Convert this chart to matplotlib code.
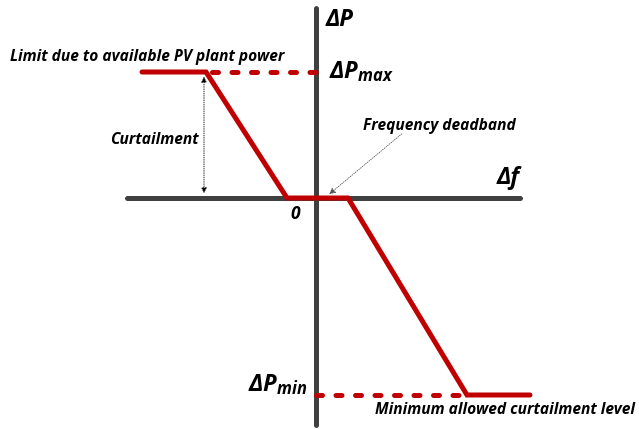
import numpy as np
import matplotlib.pyplot as plt

plt.rcParams['mathtext.fontset'] = 'custom'
plt.rcParams['mathtext.rm'] = 'Open Sans:bold:italic'
plt.rcParams['mathtext.it'] = 'Open Sans:bold:italic'
plt.rcParams['mathtext.bf'] = 'Open Sans:bold:italic'

# Droop characteristic (delta f, delta P), arbitrary units with origin at the axes crossing
df_pts = [-174, -110, -29, 32, 151, 214]
dp_pts = [126, 126, 0, 0, -197, -197]
dp_max = 126
dp_min = -197

red = '#C00000'
gray = '#404040'
font = dict(family='Open Sans', weight='bold', style='italic', color='black')

fig = plt.figure(figsize=(6.39, 4.29), dpi=100)
ax = fig.add_axes([0, 0, 1, 1])
ax.set_xlim(-316, 323)
ax.set_ylim(-231, 198)
ax.axis('off')

# axes of the diagram
ax.plot([-189, 204], [0, 0], color=gray, lw=3.6, solid_capstyle='round', zorder=1)
ax.plot([0, 0], [-227, 190], color=gray, lw=3.6, solid_capstyle='round', zorder=1)

# dashed limit lines
ax.plot([df_pts[1] + 6, 0], [dp_max, dp_max], color=red, lw=3.6,
        linestyle=(0, (1.2, 2.7)), dash_capstyle='round', zorder=2)
ax.plot([0, df_pts[4]], [dp_min, dp_min], color=red, lw=3.6,
        linestyle=(0, (1.2, 2.7)), dash_capstyle='round', zorder=2)

# characteristic
ax.plot(df_pts, dp_pts, color=red, lw=3.6, solid_capstyle='round',
        solid_joinstyle='miter', zorder=3)

# curtailment arrow
ax.annotate('', xy=(df_pts[1] - 2, 2), xytext=(df_pts[1] - 2, dp_max - 2),
            arrowprops=dict(arrowstyle='<|-|>', color='black', lw=0.6,
                            linestyle=':', mutation_scale=8), zorder=4)

# deadband arrow
ax.annotate('', xy=(11, 2), xytext=(88, 66),
            arrowprops=dict(arrowstyle='-|>', color='#555555', lw=0.6,
                            linestyle=':', mutation_scale=9), zorder=4)

ax.text(10, 178, 'ΔP', fontsize=17, ha='left', va='center', **font)
ax.text(13, dp_max, r'ΔP$_{max}$', fontsize=17, ha='left', va='center', **font)
ax.text(-8, dp_min + 10, r'ΔP$_{min}$', fontsize=17, ha='right', va='center', **font)
ax.text(181, 20, 'Δf', fontsize=17, ha='left', va='center', **font)
ax.text(-16, -16, '0', fontsize=12.5, ha='right', va='center', **font)

ax.text(-306, 141, 'Limit due to available PV plant power', fontsize=11.2, ha='left', va='center', **font)
ax.text(-206, 58, 'Curtailment', fontsize=11.2, ha='left', va='center', **font)
ax.text(47, 72, 'Frequency deadband', fontsize=11.2, ha='left', va='center', **font)
ax.text(59, -212, 'Minimum allowed curtailment level', fontsize=11.2, ha='left', va='center', **font)

fig.savefig('out.png', dpi=100)
